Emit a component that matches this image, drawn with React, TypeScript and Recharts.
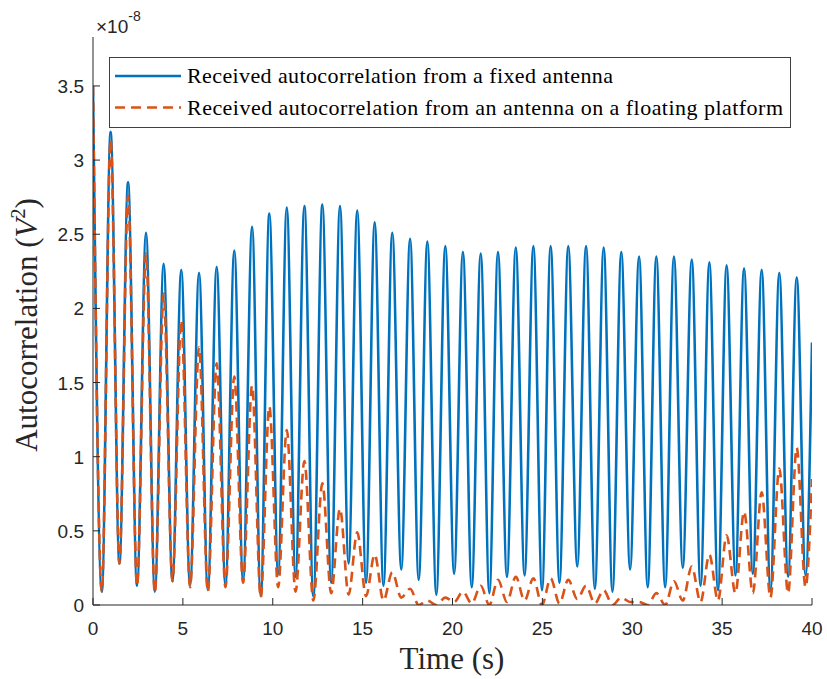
import React from 'react';
import { LineChart, Line, XAxis, YAxis } from 'recharts';

// sample times (s): peak / trough of each ripple
const TIME = [
  0, 0.49, 0.98, 1.47, 1.95, 2.45, 2.95, 3.44, 3.93, 4.42,
  4.91, 5.4, 5.9, 6.39, 6.88, 7.37, 7.86, 8.35, 8.85, 9.33,
  9.81, 10.3, 10.78, 11.27, 11.76, 12.26, 12.76, 13.25, 13.74, 14.22,
  14.7, 15.19, 15.67, 16.16, 16.65, 17.15, 17.64, 18.12, 18.6, 19.1,
  19.6, 20.09, 20.58, 21.07, 21.57, 22.05, 22.53, 23.03, 23.52, 24.01,
  24.5, 24.98, 25.46, 25.95, 26.44, 26.94, 27.43, 27.92, 28.41, 28.9,
  29.39, 29.88, 30.38, 30.86, 31.34, 31.83, 32.32, 32.81, 33.31, 33.8,
  34.29, 34.77, 35.25, 35.74, 36.22, 36.71, 37.2, 37.69, 38.18, 38.67,
  39.15, 39.64, 40,
];

// autocorrelation, x1e-8 V^2
const FIXED = [
  3.5, 0.09, 3.19, 0.28, 2.85, 0.13, 2.51, 0.09, 2.3, 0.16,
  2.26, 0.13, 2.24, 0.1, 2.28, 0.13, 2.39, 0.16, 2.55, 0.06,
  2.64, 0.21, 2.68, 0.19, 2.69, 0.06, 2.7, 0.15, 2.69, 0.28,
  2.66, 0.15, 2.58, 0.13, 2.51, 0.24, 2.47, 0.17, 2.45, 0.07,
  2.42, 0.21, 2.38, 0.12, 2.37, 0.08, 2.38, 0.19, 2.41, 0.2,
  2.42, 0.1, 2.42, 0.15, 2.42, 0.26, 2.42, 0.11, 2.41, 0.09,
  2.38, 0.24, 2.35, 0.12, 2.35, 0.12, 2.35, 0.25, 2.33, 0.13,
  2.31, 0.1, 2.29, 0.2, 2.27, 0.21, 2.26, 0.1, 2.24, 0.19,
  2.21, 0.2, 1.77,
];

const FLOATING = [
  3.5, 0.09, 3.14, 0.28, 2.76, 0.13, 2.37, 0.08, 2.1, 0.16,
  1.92, 0.12, 1.74, 0.09, 1.63, 0.12, 1.54, 0.15, 1.48, 0.05,
  1.34, 0.12, 1.18, 0.09, 0.97, 0.03, 0.82, 0.08, 0.65, 0.07,
  0.49, 0.06, 0.34, 0.03, 0.22, 0.05, 0.11, 0.0, 0.03, 0.0,
  0.05, 0.02, 0.09, 0.01, 0.13, 0.0, 0.17, 0.02, 0.19, 0.03,
  0.18, 0.0, 0.18, 0.01, 0.17, 0.04, 0.13, 0.01, 0.1, 0.0,
  0.05, 0.02, 0.02, 0.0, 0.08, 0.0, 0.16, 0.03, 0.26, 0.02,
  0.34, 0.03, 0.47, 0.08, 0.63, 0.08, 0.76, 0.05, 0.92, 0.08,
  1.06, 0.12, 0.85,
];

const X_TICKS = [0, 5, 10, 15, 20, 25, 30, 35, 40];
const Y_TICKS = [0, 0.5, 1, 1.5, 2, 2.5, 3, 3.5];
const Y_TICK_LABELS = ['0', '0.5', '1', '1.5', '2', '2.5', '3', '3.5'];
const SERIES_NAMES = [
  'Received autocorrelation from a fixed antenna',
  'Received autocorrelation from an antenna on a floating platform',
];

const W = 827;
const H = 679;
const PLOT = { left: 93, top: 37, right: 812, bottom: 605 };
const AXIS = '#262626';
const BLUE = '#0072BD';
const ORANGE = '#D95319';
const SANS = '"Liberation Sans", Arial, Helvetica, sans-serif';
const SERIF = '"Liberation Serif", "Times New Roman", serif';
const TICK_LEN = 7;
const TICK_FONT = 19;
const LINE_W = 2.6;

const data = TIME.map((t, i) => ({ t, fixed: FIXED[i], floating: FLOATING[i] }));

function BottomTick(props: any) {
  const { x, payload } = props;
  return (
    <g>
      <line x1={x} x2={x} y1={PLOT.bottom} y2={PLOT.bottom - TICK_LEN} stroke={AXIS} />
      <text x={x} y={635} textAnchor="middle" fontFamily={SANS} fontSize={TICK_FONT} fill={AXIS}>
        {String(payload.value)}
      </text>
    </g>
  );
}

function TopTick(props: any) {
  const { x } = props;
  return <line x1={x} x2={x} y1={PLOT.top} y2={PLOT.top + TICK_LEN} stroke={AXIS} />;
}

function LeftTick(props: any) {
  const { y, payload } = props;
  const i = Y_TICKS.indexOf(payload.value);
  return (
    <g>
      <line x1={PLOT.left} x2={PLOT.left + TICK_LEN} y1={y} y2={y} stroke={AXIS} />
      <text x={84} y={y + 7} textAnchor="end" fontFamily={SANS} fontSize={TICK_FONT} fill={AXIS}>
        {i >= 0 ? Y_TICK_LABELS[i] : String(payload.value)}
      </text>
    </g>
  );
}

function RightTick(props: any) {
  const { y } = props;
  return <line x1={PLOT.right} x2={PLOT.right - TICK_LEN} y1={y} y2={y} stroke={AXIS} />;
}

function Overlay() {
  return (
    <svg width={W} height={H} style={{ position: 'absolute', left: 0, top: 0, pointerEvents: 'none' }}>
      {/* exponent */}
      <text x={96} y={33} fontFamily={SANS} fontSize={19} fill={AXIS}>
        ×10<tspan dy={-12} fontSize={14}>-8</tspan>
      </text>

      {/* axis labels */}
      <text x={452} y={669} textAnchor="middle" fontFamily={SERIF} fontSize={31} fill={AXIS}>
        Time (s)
      </text>
      <text
        transform="translate(37, 325) rotate(-90)"
        textAnchor="middle"
        fontFamily={SERIF}
        fontSize={31}
        fill={AXIS}
      >
        Autocorrelation (<tspan fontStyle="italic">V</tspan>
        <tspan dy={-12} fontSize={20}>2</tspan>
        <tspan dy={12}>)</tspan>
      </text>

      {/* legend */}
      <rect x={109.5} y={57.5} width={681} height={70} fill="#fff" stroke="#404040" strokeWidth={1} />
      <line x1={115} x2={181} y1={76} y2={76} stroke={BLUE} strokeWidth={LINE_W} />
      <line x1={115} x2={181} y1={107.5} y2={107.5} stroke={ORANGE} strokeWidth={LINE_W} strokeDasharray="10 6" />
      <text x={187} y={83} fontFamily={SERIF} fontSize={22} fill="#000" textLength={426} lengthAdjust="spacing">
        {SERIES_NAMES[0]}
      </text>
      <text x={187} y={114.5} fontFamily={SERIF} fontSize={22} fill="#000" textLength={596} lengthAdjust="spacing">
        {SERIES_NAMES[1]}
      </text>
    </svg>
  );
}

export default function App() {
  return (
    <div style={{ position: 'fixed', left: 0, top: 0, width: W, height: H, background: '#fff' }}>
      <LineChart
        width={W}
        height={H}
        data={data}
        margin={{ top: PLOT.top, right: W - PLOT.right, bottom: 0, left: 0 }}
      >
        <XAxis
          dataKey="t"
          type="number"
          domain={[0, 40]}
          ticks={X_TICKS}
          interval={0}
          allowDataOverflow
          height={H - PLOT.bottom}
          tickSize={0}
          tickMargin={0}
          tickLine={false}
          axisLine={{ stroke: AXIS }}
          tick={BottomTick}
        />
        <XAxis
          xAxisId="top"
          orientation="top"
          type="number"
          domain={[0, 40]}
          ticks={X_TICKS}
          interval={0}
          height={0}
          tickSize={0}
          tickLine={false}
          axisLine={{ stroke: AXIS }}
          tick={TopTick}
        />
        <YAxis
          type="number"
          domain={[0, 3.83]}
          ticks={Y_TICKS}
          interval={0}
          allowDataOverflow
          width={PLOT.left}
          tickSize={0}
          tickMargin={0}
          tickLine={false}
          axisLine={{ stroke: AXIS }}
          tick={LeftTick}
        />
        <YAxis
          yAxisId="right"
          orientation="right"
          type="number"
          domain={[0, 3.83]}
          ticks={Y_TICKS}
          interval={0}
          width={0}
          tickSize={0}
          tickLine={false}
          axisLine={{ stroke: AXIS }}
          tick={RightTick}
        />
        <Line
          type="monotone"
          dataKey="fixed"
          name={SERIES_NAMES[0]}
          stroke={BLUE}
          strokeWidth={LINE_W}
          dot={false}
          isAnimationActive={false}
        />
        <Line
          type="monotone"
          dataKey="floating"
          name={SERIES_NAMES[1]}
          stroke={ORANGE}
          strokeWidth={LINE_W}
          strokeDasharray="10 6"
          dot={false}
          isAnimationActive={false}
        />
      </LineChart>
      <Overlay />
    </div>
  );
}
